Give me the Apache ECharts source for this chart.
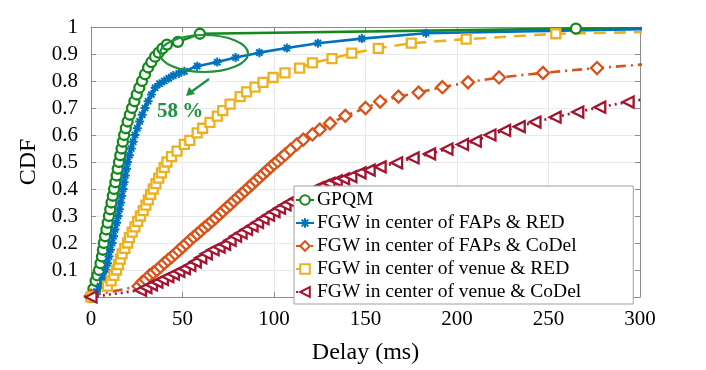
<!DOCTYPE html>
<html>
<head>
<meta charset="utf-8">
<script src="https://cdn.jsdelivr.net/npm/echarts@6/dist/echarts.min.js"></script>
<style>
  html, body { margin: 0; padding: 0; background: #fff; }
  #chart { width: 706px; height: 370px; }
</style>
</head>
<body>
<div id="chart"></div>
<script>
// CDF of delay, values as [delay ms, cdf]
// (last point of each curve lies past 300 ms, the axis clips it like the original)
const seriesNames = [
  'GPQM',
  'FGW in center of FAPs & RED',
  'FGW in center of FAPs & CoDel',
  'FGW in center of venue & RED',
  'FGW in center of venue & CoDel'
];

const gpqm = [[0,0],[1.3,0.03],[2.5,0.06],[3.5,0.08],[4.4,0.1],[5.2,0.125],[6,0.15],[6.5,0.175],[7,0.2],[7.7,0.225],
  [8.4,0.25],[9.1,0.275],[9.8,0.3],[10.5,0.325],[11.2,0.35],[11.9,0.375],[12.6,0.4],[13.3,0.425],[14,0.45],[14.6,0.475],
  [15.3,0.5],[16,0.525],[16.7,0.55],[17.4,0.575],[18.1,0.6],[19,0.625],[20,0.65],[21.2,0.675],[22.4,0.7],[23.7,0.725],
  [25,0.75],[26.4,0.775],[27.9,0.8],[29.5,0.825],[31.2,0.85],[33,0.87],[35,0.89],[37,0.905],[39,0.92],[41.5,0.935],
  [47.5,0.945],[59.5,0.975],[265,0.994],[340,0.996]];

const fapsRed = [[0,0],[3,0.02],[5,0.04],[6.6,0.07],[8.2,0.1],[9,0.125],[9.8,0.15],[10.6,0.175],[11.5,0.2],[12.3,0.225],
  [13.1,0.25],[14,0.275],[14.8,0.3],[15.5,0.325],[16.2,0.35],[16.8,0.375],[17.5,0.4],[18.1,0.425],[18.7,0.45],[19.4,0.475],
  [20,0.5],[21,0.525],[22,0.55],[23,0.575],[24,0.6],[25.3,0.625],[26.6,0.65],[28,0.675],[29.5,0.7],[31.2,0.725],
  [33,0.75],[35,0.775],[37.5,0.79],[40,0.8],[42.5,0.81],[45,0.82],[48,0.828],[51,0.836],[58,0.855],[69,0.87],
  [79,0.887],[92,0.905],[107,0.922],[124,0.94],[148,0.957],[183,0.977],[330,0.995]];

const fapsCodel = [[0,0.005],[26,0.04],[28,0.055],[30,0.065],[32,0.08],[34,0.09],[36,0.1],[38,0.112],[40,0.125],[42,0.137],
  [44,0.148],[46,0.16],[48,0.172],[50,0.185],[52,0.197],[54,0.21],[56,0.222],[58,0.233],[60,0.245],[62,0.257],
  [64,0.268],[66,0.28],[68,0.292],[70,0.305],[72,0.317],[74,0.33],[76,0.342],[78,0.355],[80,0.367],[82,0.38],
  [84,0.392],[86,0.405],[88,0.417],[90,0.43],[92,0.442],[94,0.455],[96,0.467],[98,0.48],[100,0.492],[102,0.503],
  [104,0.515],[106,0.527],[109,0.545],[112.5,0.565],[116,0.583],[121,0.602],[125,0.62],[130.6,0.643],[139,0.671],[150,0.7],
  [158,0.724],[168,0.742],[179,0.757],[192,0.777],[206,0.795],[223,0.813],[247,0.83],[276.5,0.848],[315,0.868]];

const venueRed = [[0,0],[9,0.04],[11,0.06],[12.5,0.08],[14,0.1],[15,0.12],[16,0.14],[17,0.16],[18.5,0.18],[20,0.2],
  [21,0.22],[22.5,0.24],[24,0.26],[25.5,0.28],[27,0.3],[28.5,0.32],[30,0.34],[31.3,0.36],[32.6,0.38],[34,0.4],
  [35.5,0.42],[37,0.44],[38.5,0.46],[40,0.48],[41.5,0.5],[44,0.52],[47,0.54],[51,0.565],[54,0.58],[58,0.608],
  [61,0.625],[65,0.647],[69,0.67],[72,0.69],[76,0.714],[81.5,0.742],[85,0.76],[89.6,0.777],[94,0.795],[99.5,0.813],
  [106,0.83],[114,0.848],[121,0.867],[131.7,0.883],[142.5,0.903],[157,0.921],[175,0.94],[205,0.955],[254,0.975],[320,0.984]];

const venueCodel = [[0,0],[27,0.025],[30,0.035],[33,0.045],[36,0.055],[39,0.065],[42,0.075],[45,0.085],[48,0.095],[51,0.105],
  [54,0.117],[57,0.13],[60,0.145],[63,0.16],[66.7,0.175],[70,0.185],[73,0.195],[76,0.21],[79,0.225],[82,0.237],
  [85,0.25],[88,0.263],[91,0.276],[94,0.29],[97,0.303],[100,0.316],[103,0.329],[106,0.341],[109,0.353],[112,0.364],
  [115,0.375],[118,0.385],[121,0.395],[124,0.405],[127,0.413],[130,0.421],[134,0.43],[138,0.438],[142,0.446],[147,0.46],
  [152,0.47],[158,0.482],[167,0.497],[176,0.515],[185,0.53],[194.5,0.548],[203,0.565],[210,0.577],[218,0.6],[226,0.617],
  [234,0.631],[242.6,0.648],[253.6,0.666],[266,0.685],[278,0.703],[293.5,0.722],[310,0.742]];

const font = 'Liberation Serif';
const axisGray = '#8c8c8c';
const noteGreen = '#1e9140';

// asterisk marker (MATLAB '*')
const star = 'path://M0,-6L0,6M-6,0L6,0M-4.2,-4.2L4.2,4.2M-4.2,4.2L4.2,-4.2';

const chart = echarts.init(document.getElementById('chart'));

function lineSeries(name, data, color, lineType, symbol, size, extra) {
  return Object.assign({
    name: name,
    type: 'line',
    data: data,
    clip: true,
    showAllSymbol: true,
    symbol: symbol,
    symbolSize: size,
    lineStyle: { color: color, width: 2.6, type: lineType },
    itemStyle: { color: '#fff', borderColor: color, borderWidth: 2.3 },
    emphasis: { disabled: true }
  }, extra || {});
}

const option = {
  animation: false,
  textStyle: { fontFamily: font },
  grid: { left: 91, right: 66, top: 27, bottom: 60 },
  legend: {
    orient: 'vertical',
    left: 294,
    top: 186,
    padding: [4, 52, 2, 1],
    itemGap: 3,
    itemWidth: 18,
    itemHeight: 12,
    backgroundColor: '#fff',
    borderColor: '#a0a0a0',
    borderWidth: 1,
    textStyle: { fontFamily: font, fontSize: 19.5, color: '#000', lineHeight: 20, padding: [0, 0, 0, -2] },
    data: seriesNames
  },
  xAxis: [{
    type: 'value', min: 0, max: 300, interval: 50,
    name: 'Delay (ms)', nameLocation: 'middle', nameGap: 44,
    nameTextStyle: { fontFamily: font, fontSize: 24, color: '#000' },
    axisLine: { show: true, lineStyle: { color: axisGray } },
    axisTick: { show: true, inside: true, length: 5, lineStyle: { color: axisGray } },
    axisLabel: { fontFamily: font, fontSize: 21, color: '#000', margin: 12 },
    splitLine: { show: true, lineStyle: { color: '#e9e9e9' } }
  }, {
    type: 'value', min: 0, max: 300, interval: 50, position: 'top',
    axisLine: { show: true, onZero: false, lineStyle: { color: axisGray } },
    axisTick: { show: true, inside: true, length: 5, lineStyle: { color: axisGray } },
    axisLabel: { show: false },
    splitLine: { show: false }
  }],
  yAxis: [{
    type: 'value', min: 0, max: 1, interval: 0.1,
    name: 'CDF', nameLocation: 'middle', nameGap: 38,
    nameTextStyle: { fontFamily: font, fontSize: 24, color: '#000' },
    axisLine: { show: true, lineStyle: { color: axisGray } },
    axisTick: { show: true, inside: true, length: 5, lineStyle: { color: axisGray } },
    axisLabel: {
      fontFamily: font, fontSize: 21, color: '#000', margin: 13,
      formatter: function (v) { return v === 0 ? '' : String(+v.toFixed(1)); }
    },
    splitLine: { show: true, lineStyle: { color: '#e9e9e9' } }
  }, {
    type: 'value', min: 0, max: 1, interval: 0.1, position: 'right',
    axisLine: { show: true, onZero: false, lineStyle: { color: axisGray } },
    axisTick: { show: true, inside: true, length: 5, lineStyle: { color: axisGray } },
    axisLabel: { show: false },
    splitLine: { show: false }
  }],
  series: [
    lineSeries(seriesNames[0], gpqm, '#14891a', 'solid', 'circle', 10),
    lineSeries(seriesNames[1], fapsRed, '#0072bd', 'solid', star, 9,
      { itemStyle: { color: 'none', borderColor: '#0072bd', borderWidth: 2 } }),
    lineSeries(seriesNames[2], fapsCodel, '#d95319', [10, 5, 2, 5], 'diamond', 12),
    lineSeries(seriesNames[3], venueRed, '#edb120', [12, 8], 'rect', 9),
    lineSeries(seriesNames[4], venueCodel, '#a2142f', [2, 4], 'triangle', 11, { symbolRotate: 90 })
  ],
  graphic: [
    { type: 'ellipse', shape: { cx: 204, cy: 53.5, rx: 44, ry: 18.5 }, silent: true,
      style: { fill: 'none', stroke: noteGreen, lineWidth: 2.2 }, z: 100 },
    { type: 'line', shape: { x1: 209, y1: 79, x2: 191, y2: 92 }, silent: true,
      style: { stroke: noteGreen, lineWidth: 2.2 }, z: 100 },
    { type: 'polygon', shape: { points: [[186, 96], [189, 87], [195, 94]] }, silent: true,
      style: { fill: noteGreen }, z: 100 },
    { type: 'text', left: 157, top: 101, silent: true, z: 100,
      style: { text: '58\u2009%', font: 'bold 21px "Liberation Serif"', fill: noteGreen } }
  ]
};

chart.setOption(option);
</script>
</body>
</html>
